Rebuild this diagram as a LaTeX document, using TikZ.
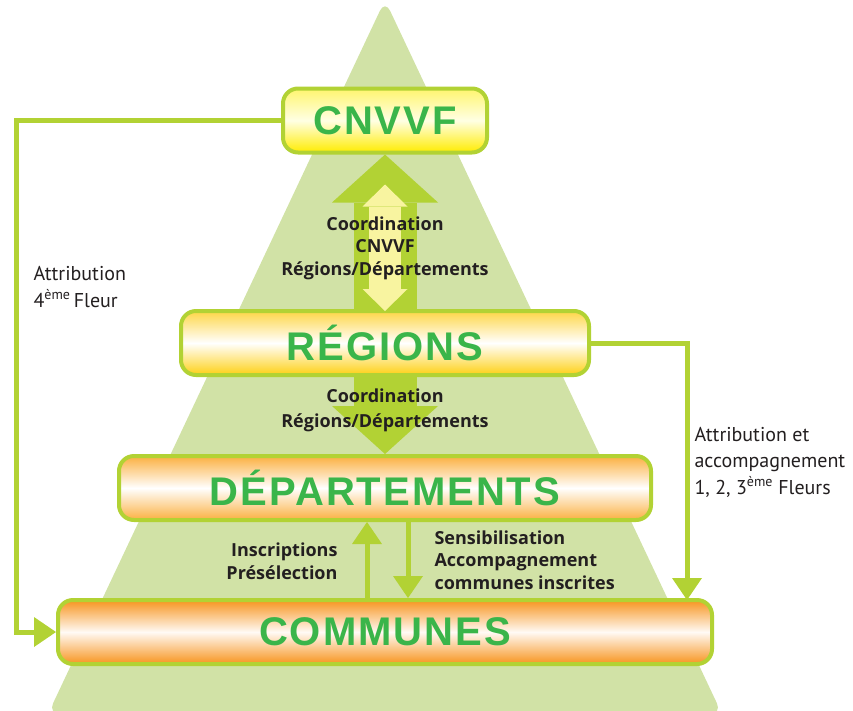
\documentclass[tikz,border=0pt]{standalone}
\usepackage{fontspec}
\setmainfont{PT Sans}
\newfontfamily\titlefont[LetterSpace=5]{Liberation Sans}
\newfontfamily\labelfont{Open Sans}
\usetikzlibrary{arrows.meta,calc}

\definecolor{pyramid}{RGB}{209,226,166}
\definecolor{linegreen}{RGB}{178,210,52}
\definecolor{titlegreen}{RGB}{58,181,74}
\definecolor{paleyellow}{RGB}{248,244,160}
\definecolor{labeltext}{RGB}{35,31,32}

\tikzset{
  level/.style={draw=linegreen, line width=4pt, rounded corners=15pt,
    minimum height=64pt, inner sep=0pt, text=titlegreen,
    font=\titlefont\bfseries\fontsize{40}{40}\selectfont},
  conn/.style={draw=linegreen, line width=5pt,
    -{Triangle[width=30pt,length=22pt,line width=0pt]}},
  bigarrow/.style={draw=linegreen, line width=63pt,
    -{Triangle[width=106pt,length=48pt,line width=0pt]}},
  innerarrow/.style={draw=paleyellow, line width=32pt,
    {Triangle[width=45pt,length=22pt,line width=0pt]}-{Triangle[width=45pt,length=22pt,line width=0pt]}},
  midlabel/.style={align=center, text=labeltext,
    font=\labelfont\bfseries\fontsize{18}{22.5}\selectfont},
  sidelabel/.style={align=left, text=labeltext, anchor=west,
    font=\fontsize{20}{26.5}\selectfont}
}

\begin{document}
\begin{tikzpicture}[x=1pt,y=-1pt]
\useasboundingbox (0,0) rectangle (853,710);

% pyramid
\fill[pyramid, rounded corners=12pt] (385,0) -- (722,714) -- (48,714) -- cycle;

% levels
\node[level, minimum width=204pt,
  top color={rgb,255:red,255;green,245;blue,110},
  bottom color={rgb,255:red,255;green,236;blue,0},
  middle color={rgb,255:red,255;green,255;blue,228}] (cnvvf) at (385,120.5) {CNVVF};
\node[level, minimum width=408pt,
  top color={rgb,255:red,254;green,214;blue,70},
  bottom color={rgb,255:red,254;green,208;blue,20},
  middle color=white] (reg) at (385,343) {RÉGIONS};
\node[level, minimum width=532pt,
  top color={rgb,255:red,251;green,176;blue,64},
  bottom color={rgb,255:red,251;green,176;blue,64},
  middle color=white] (dep) at (385,488) {DÉPARTEMENTS};
\node[level, minimum width=654pt,
  top color={rgb,255:red,247;green,148;blue,30},
  bottom color={rgb,255:red,247;green,148;blue,30},
  middle color={rgb,255:red,255;green,250;blue,245}] (comm) at (385,632) {COMMUNES};

% arrows between levels
\draw[bigarrow] (reg.north) -- (cnvvf.south);
\draw[innerarrow] ($(cnvvf.south)+(0,30)$) -- ($(reg.north)+(0,2)$);
\draw[bigarrow] (reg.south) -- (dep.north);
\draw[conn] ([xshift=-18pt]comm.north) -- ([xshift=-18pt]dep.south);
\draw[conn] ([xshift=23pt]dep.south) -- ([xshift=23pt]comm.north);

% side connectors
\coordinate (lcol) at (16,632);
\coordinate (rcol) at (687,600);
\draw[conn] (cnvvf.west) -| (lcol) -- (comm.west);
\draw[conn] (reg.east) -| (rcol);

% labels
\node[midlabel] (coordA) at (385,248) {Coordination\\CNVVF\\Régions/Départements};
\node[midlabel, font=\labelfont\bfseries\fontsize{18}{25}\selectfont] (coordB) at (385,410) {Coordination\\Régions/Départements};
\node[midlabel, align=right, anchor=east] (insc) at (341,561) {Inscriptions\\Présélection};
\node[midlabel, align=left, anchor=west] (sens) at (431,560) {Sensibilisation\\Accompagnement\\communes inscrites};
\node[sidelabel] (attrA) at (30,287) {Attribution\\4\textsuperscript{ème}\,Fleur};
\node[sidelabel] (attrB) at (691,462) {Attribution et\\accompagnement\\1, 2, 3\textsuperscript{ème} Fleurs};
\end{tikzpicture}
\end{document}
